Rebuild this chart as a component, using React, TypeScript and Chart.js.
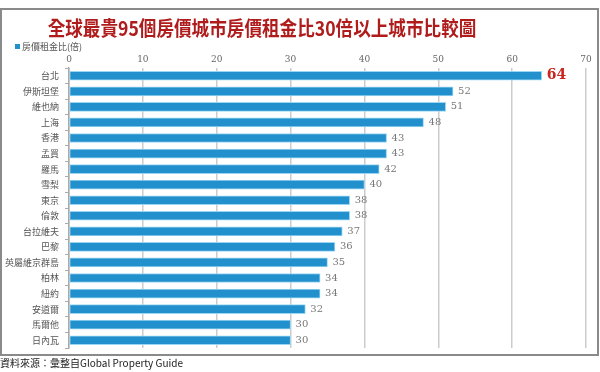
import React, { useEffect, useRef } from "react";
import { Chart, registerables } from "chart.js";

Chart.register(...registerables);

const cities = ["台北", "伊斯坦堡", "維也納", "上海", "香港", "孟買", "羅馬", "雪梨", "東京", "倫敦", "台拉維夫", "巴黎", "英屬維京群島", "柏林", "紐約", "安道爾", "馬爾他", "日內瓦"];
const ratios = [64, 52, 51, 48, 43, 43, 42, 40, 38, 38, 37, 36, 35, 34, 34, 32, 30, 30];
const titleText = "全球最貴95個房價城市房價租金比30倍以上城市比較圖";
const seriesName = "房價租金比(倍)";
const sourceText = "資料來源：彙整自Global Property Guide";

const CJK = '"Noto Sans CJK TC", "Noto Sans", sans-serif';

const decorPlugin = {
  id: "decor",
  beforeDraw(chart: any) {
    const ctx = chart.ctx;
    ctx.save();
    ctx.fillStyle = "#ffffff";
    ctx.fillRect(0, 0, chart.width, chart.height);
    ctx.strokeStyle = "#8a8a8a";
    ctx.lineWidth = 2;
    ctx.strokeRect(1, 9, 597, 346);
    ctx.restore();
  },
  afterDraw(chart: any) {
    const ctx = chart.ctx;
    ctx.save();
    // title (horizontally condensed to match the reference width)
    ctx.save();
    ctx.translate(262, 28);
    ctx.scale(0.88, 1);
    ctx.fillStyle = "#b01c1c";
    ctx.font = `bold 20px ${CJK}`;
    ctx.textAlign = "center";
    ctx.textBaseline = "middle";
    ctx.fillText(titleText, 0, 0);
    ctx.restore();
    // legend
    ctx.fillStyle = "#2290cc";
    ctx.fillRect(15, 44, 5, 5);
    ctx.fillStyle = "#555555";
    ctx.font = `9px ${CJK}`;
    ctx.textAlign = "left";
    ctx.textBaseline = "middle";
    ctx.fillText(seriesName, 22, 47);
    // footer
    ctx.fillStyle = "#222222";
    ctx.font = `10px ${CJK}`;
    ctx.fillText(sourceText, 0, 363);
    // value labels
    const meta = chart.getDatasetMeta(0);
    meta.data.forEach((bar: any, i: number) => {
      const v = ratios[i];
      if (i === 0) {
        ctx.fillStyle = "#c8261e";
        ctx.font = `bold 14px "DejaVu Serif", serif`;
      } else {
        ctx.fillStyle = "#777777";
        ctx.font = `10px "DejaVu Serif", serif`;
      }
      ctx.textBaseline = "middle";
      ctx.fillText(String(v), bar.x + 5, bar.y);
    });
    ctx.restore();
  },
};

export default function App() {
  const ref = useRef<HTMLCanvasElement>(null);
  useEffect(() => {
    const chart = new Chart(ref.current!, {
      type: "bar",
      data: {
        labels: cities,
        datasets: [
          {
            label: seriesName,
            data: ratios,
            backgroundColor: "#2290cc",
            borderColor: "#9ad6f2",
            borderWidth: 1,
            borderSkipped: false,
            barThickness: 9,
          },
        ],
      },
      options: {
        indexAxis: "y",
        animation: false,
        responsive: false,
        maintainAspectRatio: false,
        layout: { padding: { left: 0, right: 14, top: 0, bottom: 24 } },
        plugins: { legend: { display: false }, title: { display: false }, tooltip: { enabled: false } },
        scales: {
          x: {
            position: "top",
            min: 0,
            max: 70,
            ticks: { stepSize: 10, color: "#666666", font: { family: '"DejaVu Serif", serif', size: 9 }, padding: 3 },
            grid: { color: "#cccccc", lineWidth: 1.5, drawTicks: false },
            border: { display: false },
            afterFit: (s: any) => { s.height = 68; },
          },
          y: {
            ticks: { color: "#555555", font: { family: CJK, size: 9 }, padding: 6 },
            grid: { drawOnChartArea: false, drawTicks: true, tickLength: 4, color: "#aaaaaa" },
            border: { display: true, color: "#aaaaaa", width: 1.5 },
            afterFit: (s: any) => { s.width = 69; },
          },
        },
      },
      plugins: [decorPlugin],
    });
    return () => chart.destroy();
  }, []);
  return (
    <div style={{ position: "absolute", left: 0, top: 0, width: 600, height: 372 }}>
      <canvas ref={ref} width={600} height={372} style={{ width: 600, height: 372 }} />
    </div>
  );
}
